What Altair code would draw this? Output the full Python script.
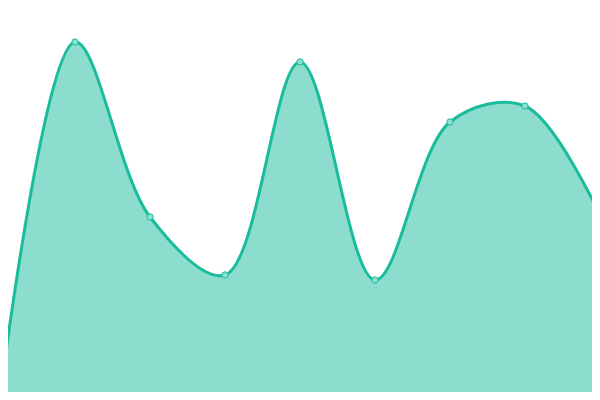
import altair as alt
import pandas as pd

idx = [0, 1, 2, 3, 4, 5, 6, 7, 8]
values = [3, 358, 183, 125, 338, 120, 278, 294, 185]

df = pd.DataFrame({"i": idx, "v": values})

x = alt.X("i:Q", axis=None, scale=alt.Scale(domain=[8 / 75, 592 / 75], nice=False, zero=False))
y = alt.Y("v:Q", axis=None, scale=alt.Scale(domain=[8, 392], nice=False, zero=False))

area = alt.Chart(df).mark_area(
    interpolate="catmull-rom", color="#1abc9c", fillOpacity=0.5,
    line={"color": "#1abc9c", "strokeWidth": 3}, clip=True
).encode(x=x, y=y, y2=alt.datum(0))

pts = alt.Chart(df).mark_point(
    filled=True, fill="#8ee0d0", stroke="#1abc9c", strokeWidth=1, size=40, opacity=1, clip=True
).encode(x=x, y=y)

chart = (area + pts).properties(width=584, height=384, padding=0).configure_view(stroke=None)

chart.save("out.html", embed_options={"renderer": "svg", "actions": False})
